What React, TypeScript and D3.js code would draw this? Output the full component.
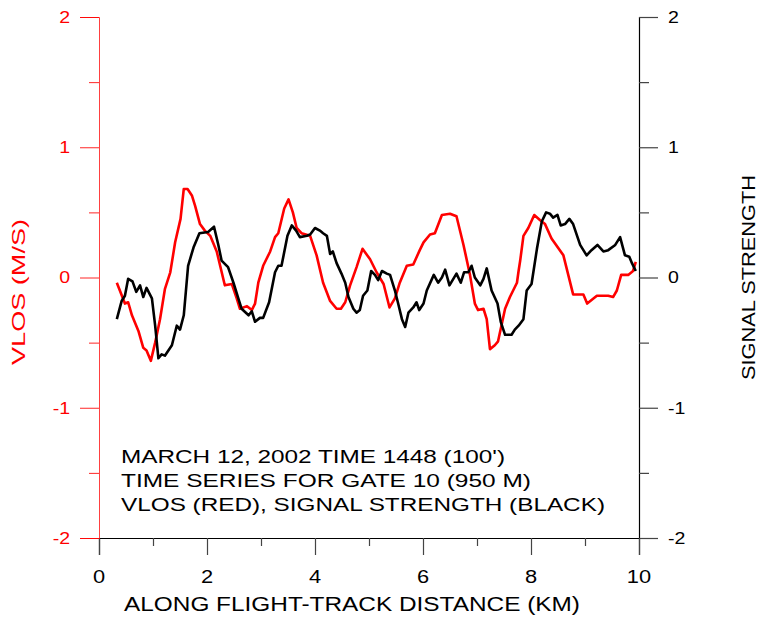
import { useEffect, useRef } from 'react';
import * as d3 from 'd3';

// along-track distance (km) and VLOS (m/s)
const VLOS_KM = [0.33, 0.48, 0.54, 0.61, 0.73, 0.82, 0.88, 0.96, 1.04, 1.13, 1.22, 1.32, 1.41, 1.51, 1.57, 1.64, 1.72, 1.78, 1.87, 1.96, 2.06, 2.18, 2.33, 2.46, 2.55, 2.61, 2.74, 2.83, 2.89, 2.95, 3.04, 3.17, 3.26, 3.32, 3.43, 3.51, 3.59, 3.66, 3.75, 3.91, 4.03, 4.15, 4.28, 4.40, 4.48, 4.56, 4.65, 4.77, 4.88, 5.02, 5.14, 5.27, 5.38, 5.48, 5.57, 5.70, 5.82, 5.94, 6.01, 6.13, 6.22, 6.35, 6.50, 6.62, 6.75, 6.87, 6.96, 7.02, 7.12, 7.18, 7.24, 7.33, 7.39, 7.52, 7.61, 7.74, 7.77, 7.80, 7.86, 7.95, 8.06, 8.17, 8.26, 8.38, 8.60, 8.69, 8.78, 8.97, 9.04, 9.22, 9.43, 9.52, 9.59, 9.67, 9.80, 9.89, 9.94];
const VLOS = [-0.04, -0.20, -0.19, -0.29, -0.41, -0.54, -0.56, -0.64, -0.50, -0.32, -0.09, 0.04, 0.27, 0.45, 0.68, 0.68, 0.63, 0.55, 0.41, 0.36, 0.32, 0.20, -0.06, -0.05, -0.16, -0.24, -0.22, -0.25, -0.20, -0.04, 0.09, 0.20, 0.31, 0.34, 0.53, 0.60, 0.50, 0.38, 0.34, 0.32, 0.17, -0.04, -0.18, -0.24, -0.24, -0.19, -0.06, 0.08, 0.22, 0.14, 0.04, -0.05, -0.23, -0.16, -0.04, 0.09, 0.10, 0.21, 0.27, 0.33, 0.34, 0.48, 0.49, 0.47, 0.25, 0.02, -0.20, -0.25, -0.24, -0.32, -0.55, -0.52, -0.49, -0.24, -0.15, -0.04, 0.05, 0.13, 0.32, 0.38, 0.48, 0.44, 0.41, 0.30, 0.17, 0.02, -0.13, -0.13, -0.20, -0.14, -0.14, -0.15, -0.10, 0.02, 0.02, 0.05, 0.12];

// along-track distance (km) and signal strength
const SIG_KM = [0.33, 0.42, 0.48, 0.54, 0.62, 0.69, 0.76, 0.82, 0.88, 0.98, 1.04, 1.10, 1.16, 1.22, 1.35, 1.44, 1.50, 1.57, 1.65, 1.75, 1.86, 2.02, 2.13, 2.21, 2.27, 2.39, 2.49, 2.58, 2.64, 2.77, 2.83, 2.89, 2.98, 3.04, 3.15, 3.26, 3.32, 3.38, 3.49, 3.57, 3.65, 3.72, 3.85, 3.91, 4.00, 4.09, 4.15, 4.22, 4.28, 4.33, 4.40, 4.49, 4.56, 4.62, 4.71, 4.77, 4.83, 4.89, 4.97, 5.04, 5.11, 5.17, 5.24, 5.33, 5.39, 5.48, 5.54, 5.61, 5.67, 5.73, 5.82, 5.88, 5.93, 6.01, 6.07, 6.20, 6.28, 6.35, 6.41, 6.49, 6.62, 6.70, 6.76, 6.84, 6.90, 6.96, 7.06, 7.12, 7.18, 7.27, 7.38, 7.44, 7.52, 7.64, 7.70, 7.77, 7.86, 7.92, 8.01, 8.11, 8.20, 8.28, 8.35, 8.41, 8.49, 8.55, 8.63, 8.71, 8.78, 8.91, 9.03, 9.12, 9.23, 9.34, 9.43, 9.56, 9.65, 9.74, 9.82, 9.87, 9.94];
const SIGNAL = [-0.32, -0.18, -0.14, -0.01, -0.03, -0.11, -0.06, -0.15, -0.08, -0.16, -0.37, -0.62, -0.59, -0.60, -0.52, -0.37, -0.40, -0.29, 0.09, 0.23, 0.34, 0.35, 0.39, 0.25, 0.13, 0.08, -0.04, -0.16, -0.24, -0.29, -0.26, -0.34, -0.31, -0.31, -0.19, 0.04, 0.09, 0.09, 0.32, 0.40, 0.36, 0.31, 0.32, 0.33, 0.38, 0.36, 0.34, 0.32, 0.18, 0.20, 0.11, 0.03, -0.04, -0.15, -0.24, -0.27, -0.25, -0.14, -0.10, 0.05, 0.02, -0.02, 0.05, 0.03, 0.02, -0.10, -0.20, -0.32, -0.38, -0.27, -0.23, -0.19, -0.25, -0.20, -0.10, 0.02, -0.04, 0.00, 0.06, -0.06, 0.03, -0.04, 0.04, 0.04, 0.09, 0.00, -0.06, -0.01, 0.07, -0.10, -0.20, -0.34, -0.44, -0.44, -0.40, -0.37, -0.32, -0.10, -0.05, 0.22, 0.43, 0.50, 0.49, 0.46, 0.48, 0.40, 0.41, 0.45, 0.41, 0.25, 0.17, 0.21, 0.25, 0.20, 0.21, 0.25, 0.31, 0.17, 0.16, 0.11, 0.05];

const X_TICKS = [0, 2, 4, 6, 8, 10];
const Y_TICKS = [-2, -1, 0, 1, 2];

const NOTES = [
  "MARCH 12, 2002 TIME 1448 (100')",
  'TIME SERIES FOR GATE 10 (950 M)',
  'VLOS (RED), SIGNAL STRENGTH (BLACK)',
];
// rendered widths of the note lines in the original (the font there is wider)
const NOTE_WIDTHS = [384, 410, 484];

const RED = '#ff0000';
const FONT = 'Liberation Sans, Arial, sans-serif';

export default function App() {
  const ref = useRef<SVGSVGElement>(null);

  useEffect(() => {
    if (!ref.current) return;
    const svg = d3.select(ref.current);
    svg.selectAll('*').remove();

    const W = 761, H = 619;
    const margin = { top: 17, right: 122, bottom: 81, left: 99 };
    const width = W - margin.left - margin.right;
    const height = H - margin.top - margin.bottom;

    svg.attr('width', W).attr('height', H);
    const g = svg.append('g').attr('transform', `translate(${margin.left},${margin.top})`);

    const x = d3.scaleLinear().domain([0, 10]).range([0, width]);
    const yL = d3.scaleLinear().domain([-2, 2]).range([height, 0]);
    const yR = d3.scaleLinear().domain([-2, 2]).range([height, 0]);

    // bottom axis
    const xAxis = g.append('g').attr('transform', `translate(0,${height})`)
      .call(d3.axisBottom(x).tickValues(d3.range(0, 11, 1)).tickSize(17).tickFormat(() => ''));
    xAxis.select('.domain').attr('stroke', '#000').attr('stroke-width', 1.2);
    xAxis.selectAll('.tick line').attr('stroke', '#444').attr('stroke-width', 1.2)
      .attr('y2', (d: any) => (d % 2 === 0 ? 17 : 8));
    g.append('g').selectAll('text').data(X_TICKS).join('text')
      .attr('x', d => x(d)).attr('y', height + 45)
      .attr('text-anchor', 'middle').attr('font-family', FONT).attr('font-size', 19)
      .attr('fill', '#000').attr('transform', d => `translate(${x(d)},0) scale(1.15,1) translate(${-x(d)},0)`)
      .text(d => d);

    // left axis (VLOS)
    const lAxis = g.append('g')
      .call(d3.axisLeft(yL).tickValues(d3.range(-2, 2.01, 0.5)).tickSize(19).tickFormat(() => ''));
    lAxis.select('.domain').attr('stroke', RED).attr('stroke-width', 1).attr('opacity', 0.75);
    lAxis.selectAll('.tick line').attr('stroke', RED).attr('stroke-width', 1).attr('opacity', 0.85)
      .attr('x2', (d: any) => (Number.isInteger(d) ? -19 : -10));
    g.append('g').selectAll('text').data(Y_TICKS).join('text')
      .attr('x', -29).attr('y', d => yL(d) + 6)
      .attr('text-anchor', 'end').attr('font-family', FONT).attr('font-size', 17)
      .attr('fill', RED).attr('transform', 'translate(-29,0) scale(1.15,1) translate(29,0)')
      .text(d => d);

    // right axis (signal strength)
    const rAxis = g.append('g').attr('transform', `translate(${width},0)`)
      .call(d3.axisRight(yR).tickValues(d3.range(-2, 2.01, 0.5)).tickSize(19).tickFormat(() => ''));
    rAxis.select('.domain').attr('stroke', '#000').attr('stroke-width', 1.2);
    rAxis.selectAll('.tick line').attr('stroke', '#444').attr('stroke-width', 1.2)
      .attr('x2', (d: any) => (Number.isInteger(d) ? 19 : 10));
    g.append('g').selectAll('text').data(Y_TICKS).join('text')
      .attr('x', width + 29).attr('y', d => yR(d) + 6)
      .attr('text-anchor', 'start').attr('font-family', FONT).attr('font-size', 17)
      .attr('fill', '#000')
      .attr('transform', `translate(${width + 29},0) scale(1.15,1) translate(${-(width + 29)},0)`)
      .text(d => d);

    // axis titles
    g.append('text').attr('x', 25).attr('y', height + 73)
      .attr('font-family', FONT).attr('font-size', 20)
      .attr('textLength', 456).attr('lengthAdjust', 'spacingAndGlyphs')
      .attr('fill', '#000').text('ALONG FLIGHT-TRACK DISTANCE (KM)');
    g.append('text').attr('transform', `translate(${-74},${348}) rotate(-90)`)
      .attr('font-family', FONT).attr('font-size', 19)
      .attr('textLength', 146).attr('lengthAdjust', 'spacingAndGlyphs')
      .attr('fill', RED).text('VLOS (M/S)');
    g.append('text').attr('transform', `translate(${width + 116},${363}) rotate(-90)`)
      .attr('font-family', FONT).attr('font-size', 19)
      .attr('textLength', 205).attr('lengthAdjust', 'spacingAndGlyphs')
      .attr('fill', '#000').text('SIGNAL STRENGTH');

    // series
    const line = d3.line<[number, number]>().x(d => x(d[0]));
    g.append('path')
      .datum(d3.zip(VLOS_KM, VLOS) as [number, number][])
      .attr('fill', 'none').attr('stroke', RED).attr('stroke-width', 2.6)
      .attr('stroke-linejoin', 'round')
      .attr('d', line.y(d => yL(d[1])));
    g.append('path')
      .datum(d3.zip(SIG_KM, SIGNAL) as [number, number][])
      .attr('fill', 'none').attr('stroke', '#000').attr('stroke-width', 2.6)
      .attr('stroke-linejoin', 'round')
      .attr('d', line.y(d => yR(d[1])));

    // annotation
    g.append('g').selectAll('text').data(NOTES).join('text')
      .attr('x', 22).attr('y', (_, i) => 446 + i * 24)
      .attr('font-family', FONT).attr('font-size', 19).attr('fill', '#000')
      .attr('textLength', (_, i) => NOTE_WIDTHS[i]).attr('lengthAdjust', 'spacingAndGlyphs')
      .text(d => d);
  }, []);

  return (
    <div>
      <style>{'body{margin:0}'}</style>
      <svg ref={ref} style={{ display: 'block', background: '#fff' }} />
    </div>
  );
}
